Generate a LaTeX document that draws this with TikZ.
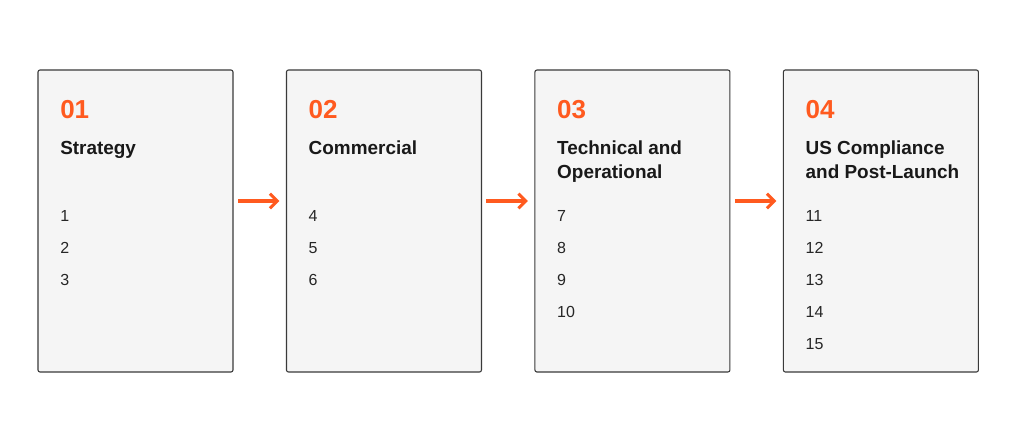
\documentclass[tikz,border=0pt]{standalone}
\usepackage{fontspec}
\setmainfont{Liberation Sans}
\usepackage{xcolor}
\usetikzlibrary{arrows.meta, positioning, calc}
\definecolor{accent}{HTML}{FF5A1F}
\definecolor{panelfill}{HTML}{F5F5F5}
\definecolor{panelline}{HTML}{3A3A3A}
\tikzset{
x=0.75pt,
y=-0.75pt,
node distance=40.1pt,
panel/.style={%
    rectangle,
    minimum width=146.25pt,
    minimum height=226.5pt,
    outer sep=0pt,
    rounded corners=1.5pt,
    fill=panelfill,
    draw=panelline,
    line width=0.8pt
},
stagenum/.style={%
    anchor=base west, inner sep=0pt, text=accent,
    font=\fontsize{19.5}{19.5}\selectfont\bfseries
},
stagetitle/.style={%
    anchor=base west, inner sep=0pt, align=left, text=black!90,
    font=\fontsize{14.2}{18}\selectfont\bfseries
},
item/.style={%
    anchor=base west, inner sep=0pt, text=black!85,
    font=\fontsize{12}{12}\selectfont
},
flow/.style={accent, line width=2.3pt, -{Straight Barb[length=5.5pt, width=11pt, line width=2.3pt]}},
}

\begin{document}
\begin{tikzpicture}
			\useasboundingbox[fill=white] (0,0) rectangle (1024,439);
			\node[panel, anchor=north west] (p1) at (38,70) {};
			\node[panel, right=of p1] (p2) {};
			\node[panel, right=of p2] (p3) {};
			\node[panel, right=of p3] (p4) {};

			% stage headers
			\node[stagenum] (n1) at ($(p1.north west)+(22,48)$) {01};
			\node[stagenum] (n2) at ($(p2.north west)+(22,48)$) {02};
			\node[stagenum] (n3) at ($(p3.north west)+(22,48)$) {03};
			\node[stagenum] (n4) at ($(p4.north west)+(22,48)$) {04};
			% base of a two-line title sits on its last line
			\node[stagetitle] (t1) at ($(p1.north west)+(22,84)$) {Strategy};
			\node[stagetitle] (t2) at ($(p2.north west)+(22,84)$) {Commercial};
			\node[stagetitle] (t3) at ($(p3.north west)+(22,108)$) {Technical and\\Operational};
			\node[stagetitle] (t4) at ($(p4.north west)+(22,108)$) {US Compliance\\and Post-Launch};

			% items
			\foreach \k/\lbl in {0/1,1/2,2/3}
				\node[item] (a\lbl) at ($(p1.north west)+(22,151+32*\k)$) {\lbl};
			\foreach \k/\lbl in {0/4,1/5,2/6}
				\node[item] (b\lbl) at ($(p2.north west)+(22,151+32*\k)$) {\lbl};
			\foreach \k/\lbl in {0/7,1/8,2/9,3/10}
				\node[item] (c\lbl) at ($(p3.north west)+(22,151+32*\k)$) {\lbl};
			\foreach \k/\lbl in {0/11,1/12,2/13,3/14,4/15}
				\node[item] (d\lbl) at ($(p4.north west)+(22,151+32*\k)$) {\lbl};

			% connectors
			\foreach \i/\j in {1/2,2/3,3/4}
				\draw[flow] ($(p\i.north east)+(5,131)$) -- ($(p\j.north west)+(-7,131)$);
		\end{tikzpicture}
\end{document}
